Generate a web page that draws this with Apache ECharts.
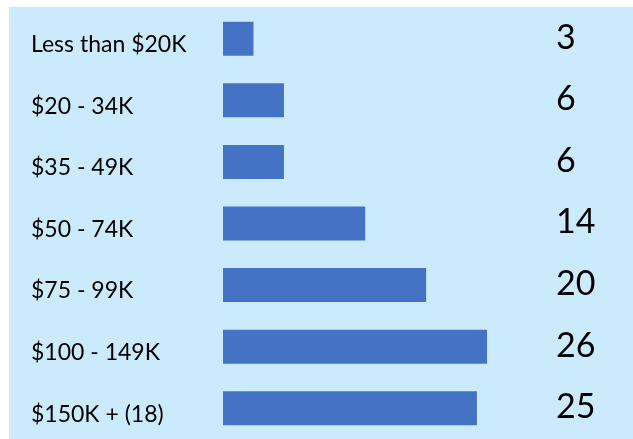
<!DOCTYPE html>
<html><head><meta charset="utf-8">
<script src="https://cdn.jsdelivr.net/npm/echarts@6/dist/echarts.min.js"></script>
<style>html,body{margin:0;padding:0;background:#fff}#c{width:633px;height:439px}</style>
</head><body><div id="c"></div>
<script>
var categories = ['Less than $20K','$20 - 34K','$35 - 49K','$50 - 74K','$75 - 99K','$100 - 149K','$150K + (18)'];
var values = [3, 6, 6, 14, 20, 26, 25];
var valueLabels = values.map(String);

var chart = echarts.init(document.getElementById('c'));
chart.setOption({
  animation: false,
  graphic: [{type:'rect', shape:{x:9,y:7,width:624,height:432}, style:{fill:'#cbebfd'}, z:-10, silent:true}],
  grid: {left:223, width:325, top:8, height:435, containLabel:false},
  xAxis: {type:'value', min:0, max:32, show:false},
  yAxis: [{
    type:'category', data:categories, inverse:true,
    axisLine:{show:false}, axisTick:{show:false}, splitLine:{show:false},
    axisLabel:{align:'left', margin:192, color:'#000', fontSize:23, fontFamily:'Lato',
      formatter:function(v){return '{a|'+v+'}';}, rich:{a:{fontSize:23, fontFamily:'Lato', color:'#000', padding:[12,0,0,0]}}}
  },{
    type:'category', data:valueLabels, inverse:true, position:'right',
    axisLine:{show:false}, axisTick:{show:false}, splitLine:{show:false},
    axisLabel:{align:'left', margin:8, color:'#000', fontSize:34, fontFamily:'Lato',
      formatter:function(v){return '{b|'+v+'}';}, rich:{b:{fontSize:34, fontFamily:'Lato', color:'#000', padding:[0,0,2,0]}}}
  }],
  series: [{type:'bar', data:values, barWidth:34, itemStyle:{color:'#4472c4'}, silent:true}]
});
</script></body></html>
